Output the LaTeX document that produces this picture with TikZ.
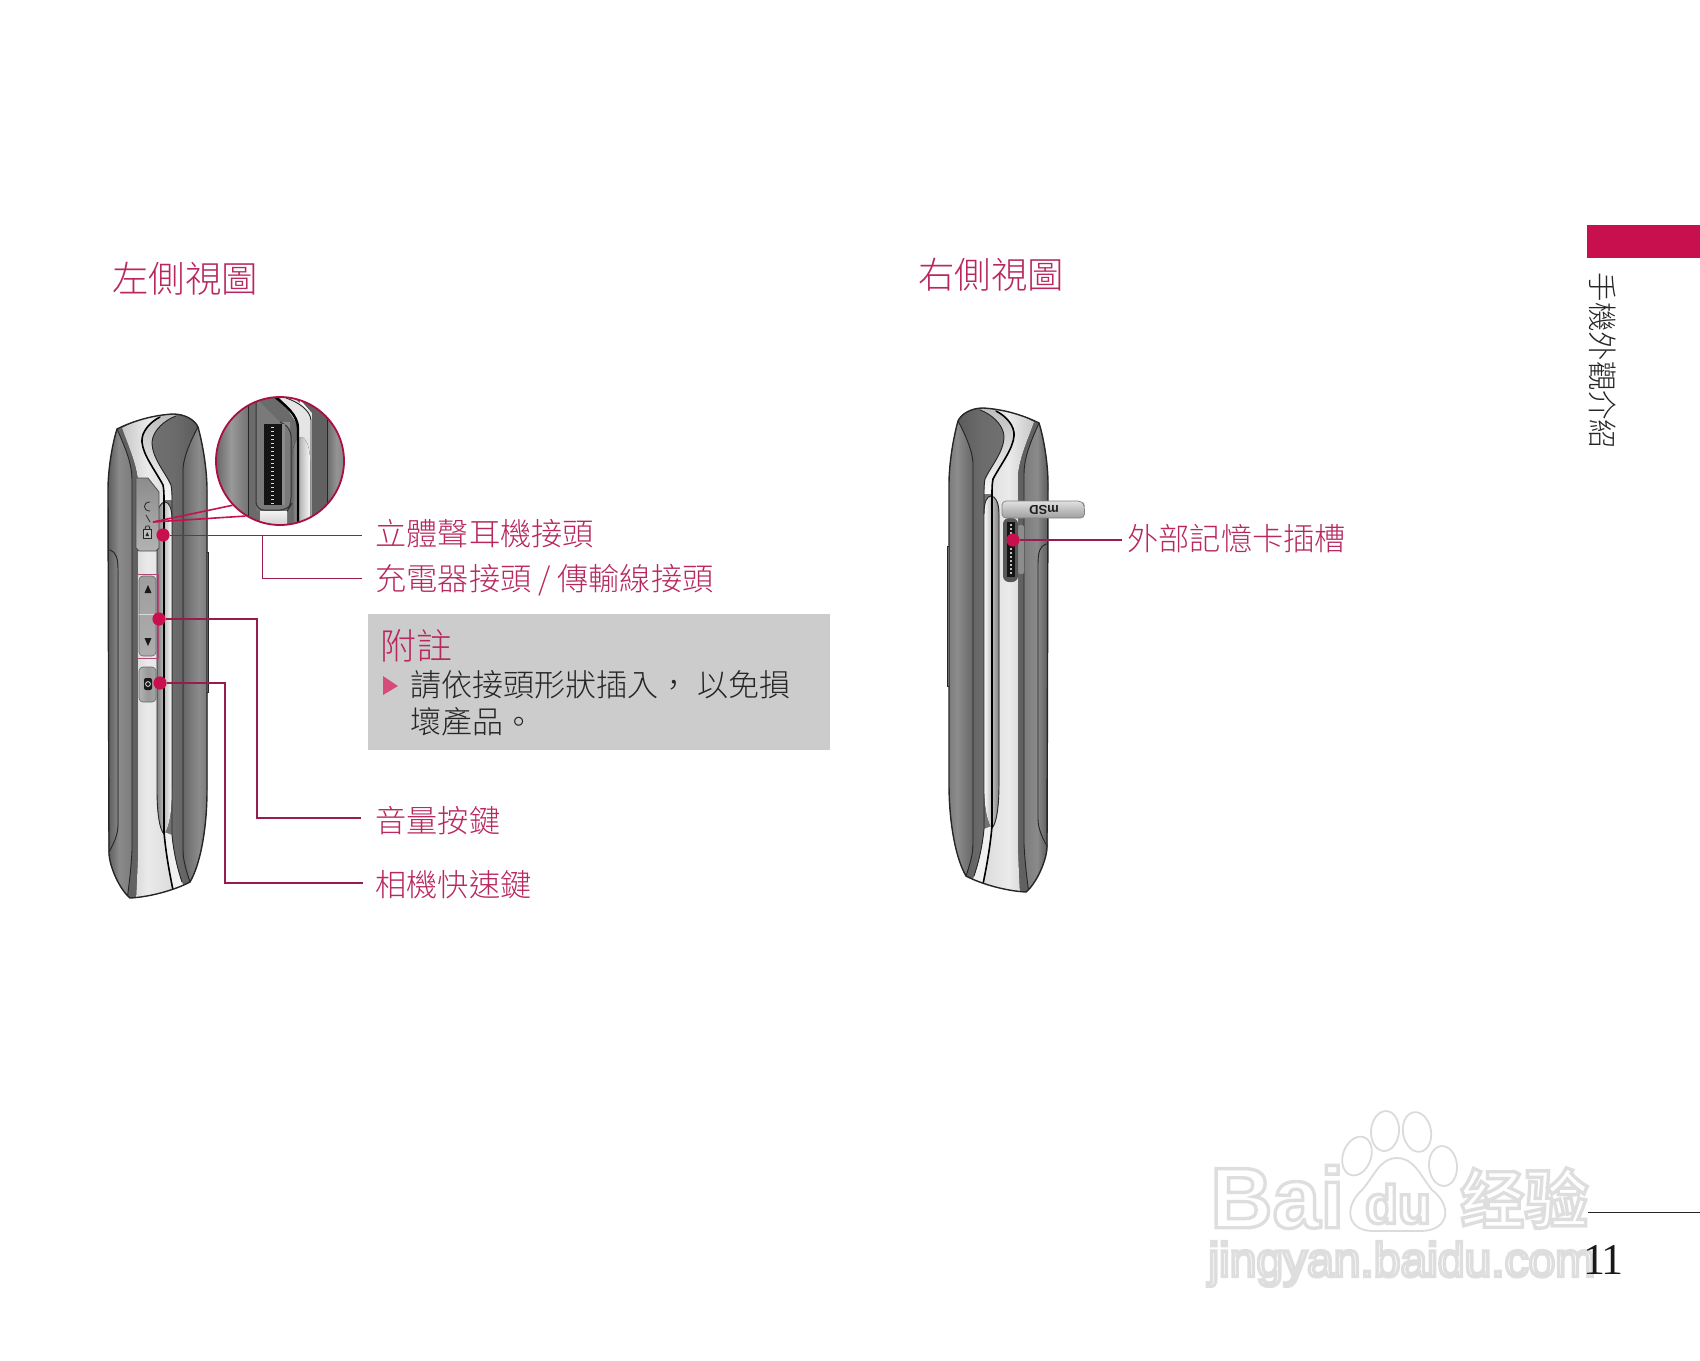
\documentclass[tikz,border=0pt]{standalone}
\usepackage{fontspec}
\newfontfamily\cjk{Noto Sans CJK TC Light}
\newfontfamily\cjksc{Noto Sans CJK SC}[BoldFont=* Bold]
\newfontfamily\wmfont{Liberation Sans}
\newfontfamily\numfont{Liberation Serif}
\usetikzlibrary{
  calc, % For the lens angles
  positioning
}
\definecolor{lgred}{HTML}{C8104E}
\definecolor{leadcol}{HTML}{9A1B50}
\definecolor{lbltext}{HTML}{B8285F}
\definecolor{notegray}{HTML}{CCCCCC}
\newcommand{\hollowtext}[1]{\special{pdf:code 2 Tr 1.7 w 0.87 G}#1\special{pdf:code 0 Tr 0 G}}

\begin{document}
\begin{tikzpicture}[
      x=0.5pt, y=-0.5pt, % one unit is one pixel of the page
      hshade/.style n args={3}{left color=#1, right color=#3, middle color=#2}, % Side to side shading
      phoneline/.style={black!85, line width=0.45pt},
      sline/.style={black, line width=0.8pt},
      leader/.style={leadcol, line width=0.5pt}, % Style for leader lines
      reddot/.style={circle, fill=lgred, inner sep=0pt, minimum size=6.6pt},
      lbl/.style={anchor=west, inner sep=0pt, text=lbltext, font=\cjk\fontsize{15.6}{18}\selectfont},
      headline/.style={anchor=west, inner sep=0pt, text=lbltext, font=\cjk\fontsize{18.2}{20}\selectfont},
      wmark/.style={inner sep=0pt, text=white},
      pawline/.style={draw=black!14, line width=0.9pt, fill=white},
      phoneshape/.style={insert path={(117,429) .. controls (135,420) and (155,415) .. (173,414)
        .. controls (185,414) and (195,420) .. (198,427) .. controls (203,445) and (207,470) .. (207,490)
        -- (207,790) .. controls (207,830) and (200,865) .. (190,882) .. controls (175,890) and (150,897) .. (130,898)
        .. controls (120,890) and (108,865) .. (109,850) -- (108,490) .. controls (108,470) and (112,445) .. (117,429) -- cycle}},
    ]

    \path[use as bounding box] (0,0) rectangle (1700,1360);

    % Body of the phone, the same on both sides
    \def\phonebody{
      \draw[phoneline, fill=black!8] (203,552) rectangle (208.5,692);
      \fill[black!55, phoneshape];
      \begin{scope}
        \clip[phoneshape];
        % left bands
        \fill[hshade={black!70}{black!46}{black!52}] (104,400) rectangle (134,905);
        \fill[black!62] (117,429) .. controls (124,445) and (132,462) .. (132,480) -- (132,850)
          .. controls (131,870) and (129,885) .. (127,900) -- (136,900) .. controls (137,880) and (138,860) .. (138,848)
          -- (138,480) .. controls (136,462) and (128,445) .. (122,428) -- cycle;
        \draw[phoneline] (117,429) .. controls (124,445) and (132,462) .. (132,480) -- (132,850)
          .. controls (131,870) and (129,885) .. (127,900);
        \fill[hshade={black!72}{black!62}{black!48}] (100,550) -- (110,550) .. controls (116,552) and (118,558) .. (118,570)
          -- (118,825) .. controls (118,835) and (113,845) .. (109,852) -- (100,852) -- cycle;
        \draw[phoneline] (108,550) -- (110,550) .. controls (116,552) and (118,558) .. (118,570)
          -- (118,825) .. controls (118,835) and (113,845) .. (109,852);
        % silver panel
        \fill[hshade={black!22}{black!8}{black!14}] (122,428) -- (165,405) -- (160,417) .. controls (150,422) and (141,432) .. (142,442)
          .. controls (143,455) and (155,470) .. (163,485) .. controls (164,490) and (164,495) .. (164,500)
          -- (164,832) .. controls (166,855) and (170,875) .. (173,890) -- (173,905) -- (134,905) -- (136,900)
          .. controls (137,880) and (138,860) .. (138,848) -- (138,480) .. controls (136,462) and (128,445) .. (122,428) -- cycle;
        % strip between the two curves
        \fill[top color=black!28, bottom color=black!3] (160,417) .. controls (150,422) and (141,432) .. (142,442)
          .. controls (143,455) and (155,470) .. (163,485) .. controls (164,490) and (164,495) .. (164,500)
          -- (172,500) .. controls (172,495) and (172,490) .. (171,485) .. controls (165,472) and (152,458) .. (152,442)
          .. controls (153,430) and (165,420) .. (176,416) -- (176,405) -- cycle;
        \fill[black!6] (164,832) .. controls (166,855) and (170,875) .. (173,890) -- (185,890)
          -- (182,882) .. controls (178,870) and (174,855) .. (172,835) -- cycle;
        % right side, middle then dark
        \fill[hshade={black!60}{black!45}{black!58}] (198,420) -- (215,420) -- (215,905) -- (183,905) -- (183,468)
          .. controls (184,455) and (192,438) .. (198,427) -- cycle;
        \fill[hshade={black!56}{black!58}{black!64}] (176,416) .. controls (165,420) and (153,430) .. (152,442)
          .. controls (152,458) and (165,472) .. (171,485) .. controls (172,490) and (172,495) .. (172,500)
          -- (172,835) .. controls (174,855) and (178,870) .. (182,882) -- (190,882)
          .. controls (186,870) and (183,860) .. (183,850) -- (183,468)
          .. controls (184,455) and (192,438) .. (198,427) -- (198,400) -- (176,405) -- cycle;
        % long pill
        \fill[hshade={black!50}{black!25}{black!2}] (157,520) .. controls (157,508) and (161,502) .. (165,502)
          .. controls (169,502) and (172,508) .. (172,520) -- (172,790) .. controls (172,815) and (168,830) .. (164,834)
          .. controls (160,830) and (157,815) .. (157,790) -- cycle;
        \draw[phoneline] (157,520) .. controls (157,508) and (161,502) .. (165,502)
          .. controls (169,502) and (172,508) .. (172,520);
        \draw[phoneline] (157,520) -- (157,790) .. controls (157,815) and (160,830) .. (164,834);
        % the two curves
        \draw[sline] (160,417) .. controls (150,422) and (141,432) .. (142,442)
          .. controls (143,455) and (155,470) .. (163,485) .. controls (164,490) and (164,495) .. (164,500)
          -- (164,832) .. controls (166,855) and (170,875) .. (173,890);
        \draw[phoneline] (176,416) .. controls (165,420) and (153,430) .. (152,442)
          .. controls (152,458) and (165,472) .. (171,485) .. controls (172,490) and (172,495) .. (172,500)
          -- (172,835) .. controls (174,855) and (178,870) .. (182,882);
        \draw[phoneline] (190,882) .. controls (186,870) and (183,860) .. (183,850) -- (183,468)
          .. controls (184,455) and (192,438) .. (198,427);
      \end{scope}
      \draw[phoneline, line width=0.7pt, phoneshape];
    }

    % Watermark
    \foreach \i/\j/\a in {1357/1156/-20, 1385/1131/-5, 1417/1132/10, 1443/1166/5}
    \draw[pawline, rotate around={\a:(\i,\j)}] (\i,\j) ellipse [x radius=14, y radius=20];
    \draw[pawline] (1397,1158) .. controls (1380,1158) and (1375,1175) .. (1362,1190)
      .. controls (1345,1205) and (1345,1230) .. (1372,1231) -- (1422,1231)
      .. controls (1450,1230) and (1452,1205) .. (1432,1190) .. controls (1420,1175) and (1414,1158) .. (1397,1158) -- cycle;
    \node[wmark, anchor=west, font=\wmfont\bfseries\fontsize{43}{43}\selectfont] (wmbai) at (1210,1197) {\hollowtext{Bai}};
    \node[wmark, font=\wmfont\bfseries\fontsize{27}{27}\selectfont] (wmdu) at (1398,1204) {\hollowtext{du}};
    \node[wmark, anchor=west, font=\cjksc\bfseries\fontsize{32}{32}\selectfont] (wmjy) at (1460,1198) {\hollowtext{经验}};
    \node[wmark, anchor=west, font=\wmfont\fontsize{24}{24}\selectfont] (wmurl) at (1208,1264) {\hollowtext{jingyan.baidu.com}};

    % Left phone
    \phonebody

    % Jack cover
    \draw[black!70, line width=0.4pt, top color=black!45, bottom color=black!30]
      (136,482) -- (136,478) -- (148,478) -- (159,492) -- (159,548) -- (156,551) -- (139,551) -- (136,548) -- cycle;
    \draw[black!85, line width=0.4pt] (150,502) .. controls (142.5,502) and (142.5,511) .. (150,511);
    \draw[black!85, line width=0.4pt] (146,515) -- (150,522);
    \draw[black!85, line width=0.4pt, fill=black!25] (143.5,529) rectangle (151,538);
    \draw[black!85, line width=0.4pt] (145,529) -- (146,526) -- (149,526) -- (150,529);
    \fill[black!85] (145.5,536) -- (147.3,532) -- (149,536) -- cycle;

    % Volume key
    \draw[leadcol!80, line width=0.5pt] (137,574) rectangle (158,658);
    \draw[black!60, line width=0.3pt, top color=black!38, bottom color=black!32, rounded corners=2pt] (139,576) rectangle (156,656);
    \draw[black!15, line width=0.4pt] (139,614) -- (156,614);
    \fill[black!90] (144.5,593) -- (148,585) -- (151.5,593) -- cycle;
    \fill[black!90] (144.5,638) -- (151.5,638) -- (148,646) -- cycle;

    % Camera key
    \draw[black!60, line width=0.3pt, hshade={black!30}{black!40}{black!35}, rounded corners=2pt] (139,667) rectangle (156,702);
    \fill[black!90, rounded corners=1pt] (144,678) rectangle (152,690);
    \draw[white, line width=0.35pt] (148,684) circle [radius=2.4];

    % Lens, contents first
    \begin{scope}
      \clip (280,461) circle [radius=64];
      \fill[hshade={black!62}{black!40}{black!55}] (214,395) rectangle (248,527);
      \fill[black!58] (248,395) rectangle (300,527);
      \draw[phoneline] (248,395) -- (248,527);
      \fill[top color=black!45, bottom color=black!55] (256,422) rectangle (290,510);
      \fill[black!10] (278,395) -- (290,395) -- (312,413) -- (312,527) -- (298,527) -- (298,425) -- cycle;
      \fill[black!62] (312,395) rectangle (327,527);
      \fill[black!62] (296,395) -- (312,413) -- (327,413) -- (327,395) -- cycle;
      \fill[hshade={black!58}{black!42}{black!48}] (327,395) rectangle (346,527);
      \draw[phoneline] (327,395) -- (327,527);
      % pill in the lens
      \fill[hshade={black!60}{black!25}{black!3}] (292,460) .. controls (292,445) and (297,437) .. (301,437)
        .. controls (306,437) and (310,448) .. (310,460) -- (310,527) -- (292,527) -- cycle;
      \draw[black, line width=1.2pt] (274,396) .. controls (285,405) and (298,415) .. (298,428) -- (298,527);
      \draw[phoneline] (286,398) .. controls (298,402) and (310,410) .. (311,420) -- (311,527);
      % connector
      \draw[black!80, line width=0.5pt, fill=black!52, rounded corners=4pt] (256,398) -- (256,510) -- (288,510) -- (291,505) -- (291,428) -- (280,422);
      \fill[black!92] (264,424) rectangle (282,505);
      \fill[black!45] (282,424) rectangle (285,505);
      \foreach \y in {427,431,...,503}
      \fill[white!85!black] (271,\y) rectangle (274,\y+1.4);
      \fill[top color=black!5, bottom color=black!20] (260,511) rectangle (287,527);
    \end{scope}
    \coordinate (zoomtip) at (153,522);
    \node[circle, draw=lgred!85!black, line width=0.9pt, minimum size=64pt, inner sep=0pt] (lens) at (280,461) {};
    \draw[lgred, line width=0.8pt] (zoomtip) -- (lens.223);
    \draw[lgred, line width=0.8pt] (zoomtip) -- (lens.238);

    % Right phone
    \begin{scope}[xshift=578pt, yshift=3pt, xscale=-1,
        hshade/.style n args={3}{left color=#3, right color=#1, middle color=#2}]
      \phonebody
    \end{scope}

    % Card slot and card
    \fill[black!45, rounded corners=1pt] (1018,525) rectangle (1024,574);
    \fill[black!66, rounded corners=3pt] (1003,518) rectangle (1018,582);
    \fill[black!92] (1007,522) rectangle (1015,577);
    \foreach \y in {524,528,...,574}
    \fill[black!25] (1010,\y) rectangle (1011.5,\y+1.5);
    \draw[black!50, line width=0.35pt, top color=black!12, bottom color=black!38, rounded corners=2pt]
      (1002,518) -- (1002,501) -- (1082,501) -- (1084.5,506) -- (1084.5,518) -- cycle;
    \node[rotate=180, inner sep=0pt, text=black!88, font=\wmfont\bfseries\fontsize{6.5}{7}\selectfont] (cardlogo) at (1044,510) {mSD};

    % Titles
    \node[headline] (lefttitle) at (112,279) {左側視圖};
    \node[headline] (righttitle) at (918,275) {右側視圖};

    % Labels
    \node[lbl] (lbljack) at (375,533.5) {立體聲耳機接頭};
    \node[lbl] (lblcharge) at (375,580) {充電器接頭 / 傳輸線接頭};
    \node[lbl] (lblvolume) at (375,821) {音量按鍵};
    \node[lbl] (lblcamera) at (375,885) {相機快速鍵};
    \node[lbl] (lblcard) at (1127,539) {外部記憶卡插槽};

    % Dots and leaders
    \node[reddot] (dotjack) at (163,535) {};
    \node[reddot] (dotvolume) at (159,619) {};
    \node[reddot] (dotcamera) at (160,683) {};
    \node[reddot] (dotcard) at (1013,540) {};
    \coordinate (jackend) at (362,535);
    \coordinate (jackbranch) at (262,535);
    \coordinate (chargeend) at (362,578);
    \coordinate (volumebend) at (257,818);
    \coordinate (volumeend) at (361,818);
    \coordinate (camerabend) at (225,883);
    \coordinate (cameraend) at (363,883);
    \coordinate (cardend) at (1122,540);
    \draw[leader] (dotjack) -- (jackend);
    \draw[leader] (jackbranch) |- (chargeend);
    \draw[leader, line width=0.7pt] (dotvolume) -| (volumebend) -- (volumeend);
    \draw[leader, line width=0.85pt] (dotcamera) -| (camerabend) -- (cameraend);
    \draw[leader, line width=0.85pt] (dotcard) -- (cardend);

    % Note box
    \node[fill=notegray, minimum width=231pt, minimum height=68pt, inner sep=0pt] (notebox) at (599,682) {};
    \node[headline, font=\cjk\fontsize{18}{20}\selectfont] (notetitle) at (380,646) {附註};
    \fill[lgred!75] (383,676) -- (398,686) -- (383,695) -- cycle;
    \node[anchor=west, inner sep=0pt, align=left, text=black!85, font=\cjk\fontsize{15.5}{18.5}\selectfont] (notetext) at (410,703)
      {請依接頭形狀插入，\hspace{4pt}以免損\\壞產品。};

    % Tab at the page edge
    \fill[lgred] (1587,225) rectangle (1700,258);
    \node[rotate=-90, inner sep=0pt, text=black!85, font=\cjk\fontsize{14.7}{16}\selectfont] (tabtext) at (1603,361) {手機外觀介紹};

    % Page number
    \coordinate (pagea) at (1588,1212);
    \coordinate (pageb) at (1700,1212);
    \draw[black!85, line width=0.5pt] (pagea) -- (pageb);
    \node[inner sep=0pt, text=black!90, font=\numfont\fontsize{22}{24}\selectfont] (pagenum) at (1603,1260) {1\hspace{-2pt}1};
  \end{tikzpicture}
\end{document}
